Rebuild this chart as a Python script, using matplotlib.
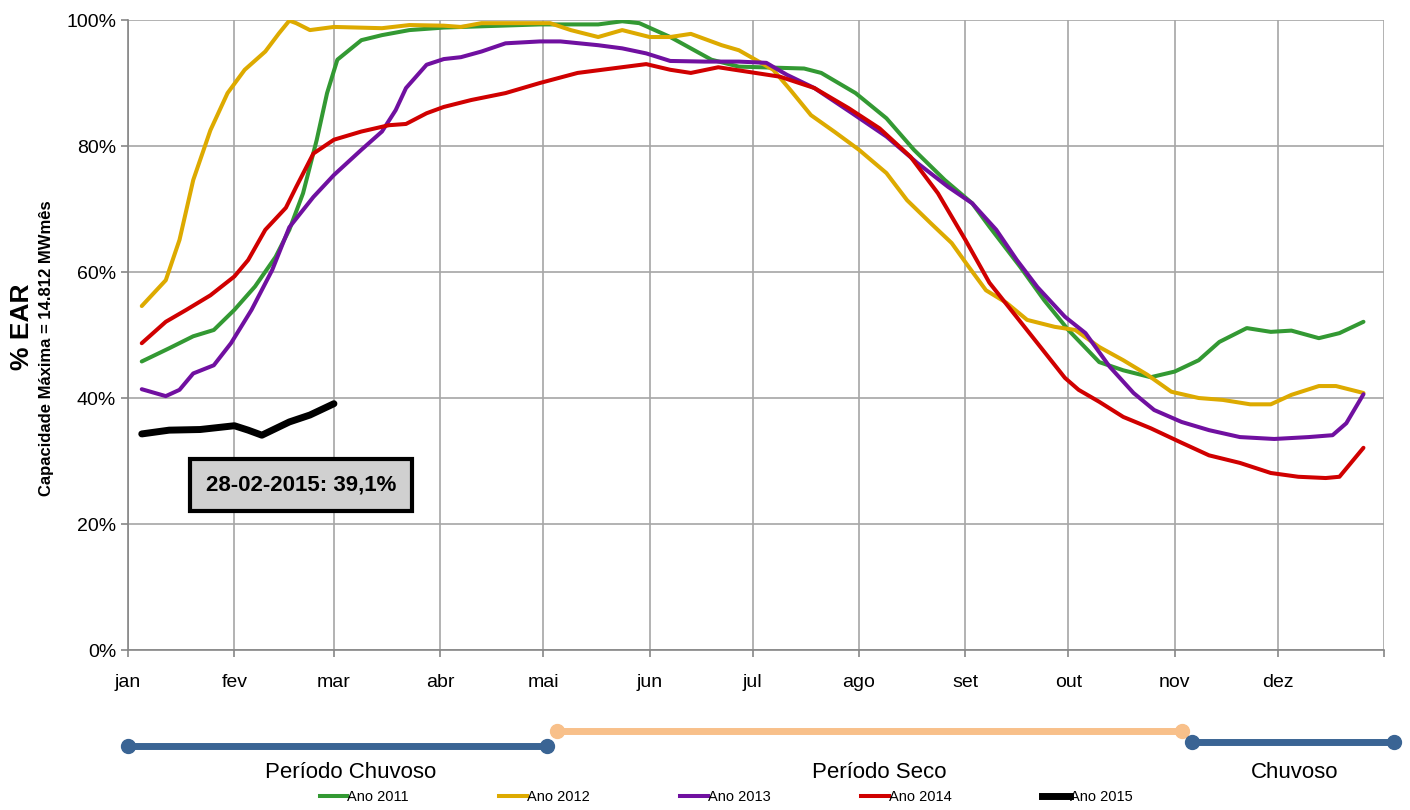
import matplotlib
matplotlib.use("Agg")
import matplotlib.pyplot as plt
from matplotlib.lines import Line2D

plt.rcParams['font.family'] = ['Liberation Sans', 'DejaVu Sans']

# day of year -> stored energy (% EAR)
days_2011 = [4, 12, 19, 25, 31, 37, 43, 47, 51, 55, 58, 61, 68, 74, 82, 92, 103, 120, 137, 144,
             149, 158, 170, 178, 197, 202, 212, 221, 229, 238, 246, 251, 260, 267, 274, 283, 290,
             298, 305, 312, 318, 326, 333, 339, 347, 353, 360]
ear_2011 = [45.8, 47.9, 49.8, 50.8, 54.0, 57.7, 62.4, 66.7, 72.5, 81.0, 88.4, 93.7, 96.8, 97.6,
            98.4, 98.8, 99.0, 99.3, 99.3, 99.8, 99.5, 97.3, 93.7, 92.6, 92.3, 91.6, 88.4, 84.4,
            79.4, 74.6, 70.9, 67.2, 60.8, 55.5, 50.8, 45.7, 44.4, 43.3, 44.2, 46.0, 48.9, 51.1,
            50.5, 50.7, 49.5, 50.3, 52.1]

days_2012 = [4, 11, 15, 19, 24, 29, 34, 40, 44, 47, 49, 53, 60, 74, 82, 92, 97, 103, 123, 129,
             137, 144, 152, 158, 164, 173, 178, 188, 193, 199, 206, 213, 221, 227, 234, 240, 245,
             250, 256, 262, 270, 276, 283, 290, 297, 304, 312, 319, 327, 333, 339, 347, 352, 360]
ear_2012 = [54.6, 58.7, 65.1, 74.6, 82.5, 88.4, 92.1, 95.0, 97.9, 99.9, 99.5, 98.4, 98.9, 98.7,
            99.2, 99.1, 98.9, 99.5, 99.5, 98.4, 97.3, 98.4, 97.3, 97.3, 97.8, 96.0, 95.2, 92.1,
            88.9, 84.9, 82.2, 79.4, 75.7, 71.4, 67.7, 64.6, 60.8, 57.1, 55.1, 52.4, 51.3, 50.8,
            48.1, 46.0, 43.7, 41.0, 40.0, 39.7, 39.0, 39.0, 40.5, 41.9, 41.9, 40.8]

days_2013 = [4, 11, 15, 19, 25, 30, 36, 42, 47, 54, 60, 68, 74, 78, 81, 87, 92, 97, 103, 110,
             120, 126, 137, 144, 151, 158, 168, 178, 186, 192, 200, 211, 221, 230, 239, 246, 253,
             259, 265, 273, 279, 286, 293, 299, 307, 315, 324, 334, 344, 351, 355, 360]
ear_2013 = [41.4, 40.3, 41.3, 43.9, 45.2, 48.7, 54.0, 60.3, 67.1, 71.9, 75.4, 79.4, 82.3, 85.7,
            89.2, 92.9, 93.8, 94.1, 95.0, 96.3, 96.6, 96.6, 96.0, 95.5, 94.7, 93.5, 93.4, 93.4,
            93.2, 91.3, 89.2, 85.2, 81.5, 77.3, 73.5, 70.9, 66.7, 61.9, 57.6, 52.9, 50.3, 45.0,
            40.8, 38.1, 36.2, 34.9, 33.8, 33.5, 33.8, 34.1, 36.0, 40.6]

days_2014 = [4, 11, 17, 24, 31, 35, 40, 46, 49, 54, 60, 68, 76, 81, 87, 92, 100, 110, 120, 131,
             141, 151, 158, 164, 172, 178, 190, 200, 210, 219, 228, 236, 244, 251, 258, 265, 273,
             277, 283, 290, 298, 307, 315, 324, 333, 341, 349, 353, 360]
ear_2014 = [48.7, 52.1, 54.0, 56.3, 59.3, 61.9, 66.7, 70.2, 73.5, 78.8, 81.0, 82.3, 83.3, 83.5,
            85.2, 86.2, 87.3, 88.4, 90.0, 91.6, 92.3, 93.0, 92.1, 91.6, 92.5, 92.0, 91.0, 89.2,
            86.0, 82.8, 78.3, 72.5, 65.1, 58.3, 53.5, 48.7, 43.2, 41.3, 39.4, 37.0, 35.2, 32.9,
            30.9, 29.7, 28.1, 27.5, 27.3, 27.5, 32.1]

days_2015 = [4, 12, 21, 31, 35, 39, 47, 53, 60]
ear_2015 = [34.3, 34.9, 35.0, 35.6, 34.9, 34.1, 36.2, 37.3, 39.1]

series = [
    ("Ano 2011", days_2011, ear_2011, "#339933", 2.9),
    ("Ano 2012", days_2012, ear_2012, "#DDAA00", 2.9),
    ("Ano 2013", days_2013, ear_2013, "#7010A0", 2.9),
    ("Ano 2014", days_2014, ear_2014, "#D00000", 2.9),
    ("Ano 2015", days_2015, ear_2015, "#000000", 5.0),
]

# the date axis runs over a 366-day calendar
month_starts = [0, 31, 60, 91, 121, 152, 182, 213, 244, 274, 305, 335, 366]
month_labels = ["jan", "fev", "mar", "abr", "mai", "jun", "jul", "ago", "set", "out", "nov", "dez", ""]

# rainy / dry seasons drawn under the chart (start day, end day, label day)
periods = [("Período Chuvoso", 0, 122, 65, "#3A6494"),
           ("Período Seco", 125, 307, 219, "#F8C08A"),
           ("Chuvoso", 310, 369, 340, "#3A6494")]

fig = plt.figure(figsize=(14.1, 8.1), dpi=100)
ax = fig.add_axes([0.0908, 0.1975, 0.8908, 0.7778])

for label, d, v, color, lw in series:
    ax.plot(d, v, color=color, lw=lw, label=label, solid_capstyle='round',
            solid_joinstyle='round', zorder=3)

ax.set_xlim(0, 366)
ax.set_ylim(0, 100)
ax.set_xticks(month_starts)
ax.set_xticklabels(month_labels, fontsize=14)
ax.set_yticks(range(0, 101, 20))
ax.set_yticklabels(["%d%%" % t for t in range(0, 101, 20)], fontsize=14)
ax.grid(True, color="#A6A6A6", lw=1.2, zorder=0)
for side in ["top", "right"]:
    ax.spines[side].set_visible(False)
for side in ["left", "bottom"]:
    ax.spines[side].set_color("#868686")
    ax.spines[side].set_linewidth(1.2)
ax.tick_params(axis='both', colors="#868686", labelcolor="black", length=5, width=1.2)
ax.tick_params(axis='x', pad=12)

last = ear_2015[-1]
ax.text(50.4, 26.2, "28-02-2015: " + ("%.1f%%" % last).replace(".", ","),
        fontsize=16, fontweight='bold', ha='center', va='center', zorder=5,
        bbox=dict(boxstyle='square,pad=0.7', fc="#D0D0D0", ec="black", lw=3))

fig.text(0.0156, 0.597, "% EAR", rotation=90, fontsize=19, fontweight='bold',
         ha='center', va='center')
fig.text(0.033, 0.57, "Capacidade Máxima = 14.812 MWmês", rotation=90, fontsize=12,
         fontweight='bold', ha='center', va='center')

pax = fig.add_axes([0.0908, 0.03, 0.8908, 0.09])
pax.set_xlim(0, 366)
pax.set_ylim(0, 1)
pax.axis('off')
for i, (name, start, end, mid, color) in enumerate(periods):
    yy = [0.55, 0.75, 0.6][i]
    pax.plot([start, end], [yy, yy], color=color, lw=5, marker='o', ms=10,
             clip_on=False, solid_capstyle='butt')
    pax.text(mid, 0.18, name, fontsize=16, ha='center', va='center')

handles = [Line2D([], [], color=c, lw=lw) for _, _, _, c, lw in series]
fig.legend(handles, [s[0] for s in series], loc='center', ncol=5,
           bbox_to_anchor=(0.515, 0.016), frameon=False, fontsize=10.5,
           handlelength=1.9, handletextpad=0.0, columnspacing=6.2)

fig.savefig("out.png", dpi=100)
